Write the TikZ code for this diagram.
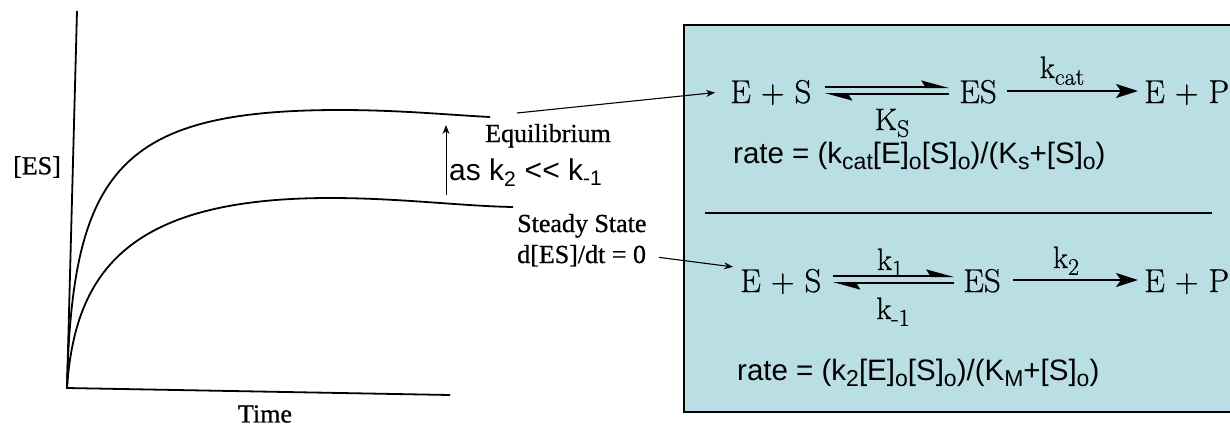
\documentclass[tikz,border=0pt]{standalone}
\usepackage{fontspec}
\newfontfamily\timesfont[FakeBold=0.8]{Liberation Serif}
\newfontfamily\arialfont{Liberation Sans}
\newfontfamily\cmfont[FakeBold=0.6]{Latin Modern Roman}
\usetikzlibrary{arrows.meta}
\definecolor{panelblue}{RGB}{185,222,227}
\newcommand\rplus{\hspace{0.3em}+\hspace{0.3em}}
\newcommand\rsub[2][23]{\raisebox{-0.22em}{\fontsize{#1}{#1}\selectfont #2}}
\begin{document}
\begin{tikzpicture}[x=1pt,y=-1pt,
  axis/.style={line width=1.8pt},
  serif/.style={font=\timesfont\fontsize{26}{30}\selectfont, inner sep=0pt},
  sans/.style={font=\arialfont\fontsize{29.5}{33}\selectfont, inner sep=0pt, anchor=base west},
  chem/.style={font=\cmfont\fontsize{33}{38}\selectfont, inner sep=0pt, anchor=base west, text height=24pt, text depth=0pt},
  rk/.style={font=\cmfont\fontsize{31}{34}\selectfont, inner sep=0pt, anchor=base},
  lead/.style={line width=1.1pt, -{Stealth[length=9pt,width=7pt]}},
  rxn/.style={line width=2pt, -{Stealth[length=22pt,width=14pt,inset=5pt]}},
  harp/.style={line width=2pt, -{Stealth[harpoon,length=24pt,width=13pt,inset=4pt]}}]
\useasboundingbox (0,0) rectangle (1230,429);
\fill[white] (0,0) rectangle (1230,429);
% panel with both mechanisms
\draw[line width=1.2pt, fill=panelblue] (684,25) rectangle (1240,412);
\draw[line width=1.2pt] (705,213) -- (1212,213);
% [ES] against time
\coordinate (o) at (67,388);
\coordinate (top) at (77,11);
\coordinate (end) at (450,395);
\draw[axis] (top) -- (o) -- (end);
\draw[axis] (o) .. controls (72,170) and (120,110) .. (340,110) .. controls (400,110) and (450,115) .. (490,117);
\draw[axis] (o) .. controls (75,270) and (130,198) .. (330,198) .. controls (400,198) and (460,206) .. (513,207);
\node[serif] (conc) at (37,167) {[ES]};
\node[serif] (time) at (265,414) {Time};
\node[serif, anchor=base west] (eql) at (485,142) {Equilibrium};
\node[sans, font=\arialfont\fontsize{30}{34}\selectfont] (cond) at (449,180) {as k\textsubscript{2} << k\textsubscript{-1}};
\node[serif, anchor=base west] (ss) at (517,232) {Steady State};
\node[serif, anchor=base west] (ssd) at (517,263) {d[ES]/dt = 0};
\coordinate (lo) at (446,195);
\coordinate (hi) at (446,125);
\draw[lead, line width=1pt] (lo) -- (hi);
% equilibrium case
\node[chem] (a1) at (730,103) {E\rplus S};
\node[chem] (b1) at (959,103) {ES};
\node[chem] (c1) at (1144,103) {E\rplus P};
\draw[harp, shorten <=13pt, shorten >=10pt] ([yshift=4pt]a1.east) -- ([yshift=4pt]b1.west);
\draw[harp, shorten <=10pt, shorten >=13pt] ([yshift=-3pt]b1.west) -- ([yshift=-3pt]a1.east);
\draw[rxn, shorten <=10pt, shorten >=6pt] (b1.east) -- (c1.west);
\node[rk] (kc) at (1062,78) {k\rsub[24]{cat}};
\node[rk] (ks) at (892,130) {K\rsub[24]{S}};
\node[sans] (r1) at (733,163) {rate = (k\rsub{cat}[E]\rsub{o}[S]\rsub{o})/(K\rsub{s}+[S]\rsub{o})};
% steady state case
\node[chem] (a2) at (740,292) {E\rplus S};
\node[chem] (b2) at (963,292) {ES};
\node[chem] (c2) at (1144,292) {E\rplus P};
\draw[harp, shorten <=11pt, shorten >=9pt] ([yshift=4pt]a2.east) -- ([yshift=4pt]b2.west);
\draw[harp, shorten <=9pt, shorten >=11pt] ([yshift=-3pt]b2.west) -- ([yshift=-3pt]a2.east);
\draw[rxn, shorten <=12pt, shorten >=6pt] (b2.east) -- (c2.west);
\node[rk] (k1) at (890,270) {k\rsub[24]{1}};
\node[rk] (km) at (893,319) {k\rsub[24]{-1}};
\node[rk] (k2) at (1066,268) {k\rsub[24]{2}};
\node[sans] (r2) at (737,380) {rate = (k\rsub{2}[E]\rsub{o}[S]\rsub{o})/(K\rsub{M}+[S]\rsub{o})};
% pointers into the panel
\coordinate (q) at (517,113);
\draw[lead, shorten >=15pt] (q) -- (a1.west);
\draw[lead, shorten <=13pt, shorten >=7pt] (ssd.east) -- (a2.north west);
\end{tikzpicture}
\end{document}
